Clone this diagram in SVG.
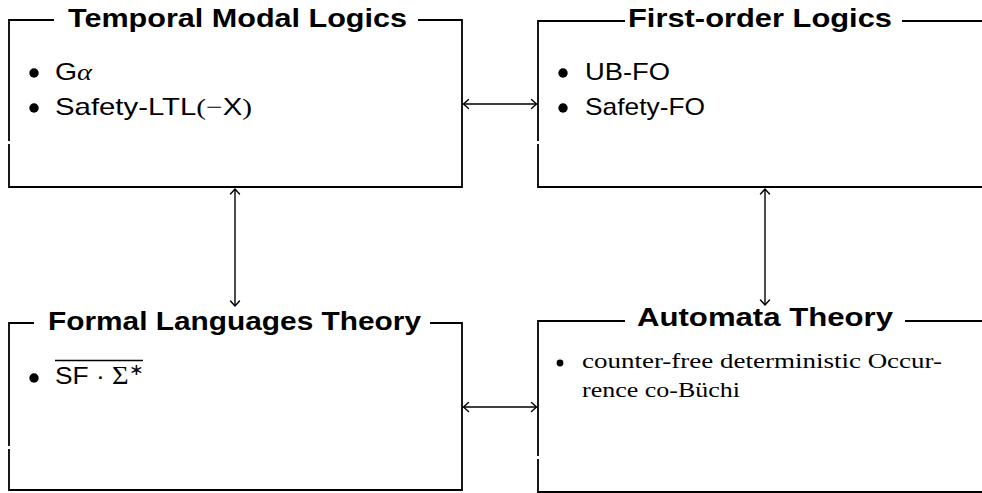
<svg xmlns="http://www.w3.org/2000/svg" width="982" height="493" viewBox="0 0 982 493">
<style>
.frame{fill:none;stroke:#000;stroke-width:1.8}
.title{font-family:"Liberation Sans",Arial,sans-serif;font-weight:bold;font-size:26.5px;fill:#000}
.body{font-family:"Liberation Sans",Arial,sans-serif;font-size:24px;fill:#000}
.serif{font-family:"Liberation Serif","Times New Roman",serif;fill:#000}
.conn{fill:none;stroke:#000;stroke-width:1.4}
.head{fill:none;stroke:#000;stroke-width:1.4;stroke-linecap:round;stroke-linejoin:round}
</style>
<rect width="982" height="493" fill="#fff"/>

<g id="temporal-modal-logics">
  <path class="frame" d="M54,20 H9 V141 M9,144 V187 H462 V20 H418"/>
  <text class="title" x="68" y="27" textLength="339" lengthAdjust="spacingAndGlyphs">Temporal Modal Logics</text>
  <circle cx="34" cy="73" r="4.7"/>
  <text class="body" x="55" y="80" textLength="37" lengthAdjust="spacingAndGlyphs">G<tspan class="serif" font-style="italic">α</tspan></text>
  <circle cx="34" cy="108" r="4.7"/>
  <text class="body" x="55" y="115" textLength="197" lengthAdjust="spacingAndGlyphs">Safety-LTL<tspan class="serif">(−</tspan>X<tspan class="serif">)</tspan></text>
</g>

<g id="first-order-logics">
  <path class="frame" d="M625,21 H538 V141 M538,144 V187 H982"/>
  <path class="frame" d="M902,21 H982"/>
  <text class="title" x="628" y="27" textLength="264" lengthAdjust="spacingAndGlyphs">First-order Logics</text>
  <circle cx="563" cy="73" r="4.7"/>
  <text class="body" x="585" y="80" textLength="85" lengthAdjust="spacingAndGlyphs">UB-FO</text>
  <circle cx="563" cy="108" r="4.7"/>
  <text class="body" x="585" y="115" textLength="120" lengthAdjust="spacingAndGlyphs">Safety-FO</text>
</g>

<g id="formal-languages-theory">
  <path class="frame" d="M34,323 H9 V446 M9,449 V490 H462 V323 H430"/>
  <text class="title" x="48" y="330" textLength="373" lengthAdjust="spacingAndGlyphs">Formal Languages Theory</text>
  <circle cx="34" cy="378" r="4.7"/>
  <text class="body" x="55" y="384" textLength="88" lengthAdjust="spacingAndGlyphs">SF · <tspan class="serif" font-size="26">Σ</tspan><tspan dy="-9" font-size="16">∗</tspan></text>
  <line x1="55" y1="360.5" x2="143" y2="360.5" stroke="#000" stroke-width="1.4"/>
</g>

<g id="automata-theory">
  <path class="frame" d="M625,321 H538 V456 M538,459 V492 H982"/>
  <path class="frame" d="M905,321 H982"/>
  <text class="title" x="637" y="326" textLength="256" lengthAdjust="spacingAndGlyphs">Automata Theory</text>
  <circle cx="560" cy="363" r="3.4"/>
  <text class="serif" font-size="21.5" x="582" y="368" textLength="360" lengthAdjust="spacingAndGlyphs">counter-free deterministic Occur-</text>
  <text class="serif" font-size="21.5" x="582" y="397" textLength="158" lengthAdjust="spacingAndGlyphs">rence co-Büchi</text>
</g>

<g id="connectors">
  <line class="conn" x1="463.5" y1="104" x2="536.5" y2="104"/>
  <path class="head" d="M468.5,99.5 L463.5,104 L468.5,108.5"/>
  <path class="head" d="M531.5,99.5 L536.5,104 L531.5,108.5"/>
  <line class="conn" x1="463.5" y1="407" x2="536.5" y2="407"/>
  <path class="head" d="M468.5,402.5 L463.5,407 L468.5,411.5"/>
  <path class="head" d="M531.5,402.5 L536.5,407 L531.5,411.5"/>
  <line class="conn" x1="235" y1="189" x2="235" y2="306"/>
  <path class="head" d="M230.5,194 L235,189 L239.5,194"/>
  <path class="head" d="M230.5,301 L235,306 L239.5,301"/>
  <line class="conn" x1="765" y1="189" x2="765" y2="305"/>
  <path class="head" d="M760.5,194 L765,189 L769.5,194"/>
  <path class="head" d="M760.5,300 L765,305 L769.5,300"/>
</g>
</svg>
